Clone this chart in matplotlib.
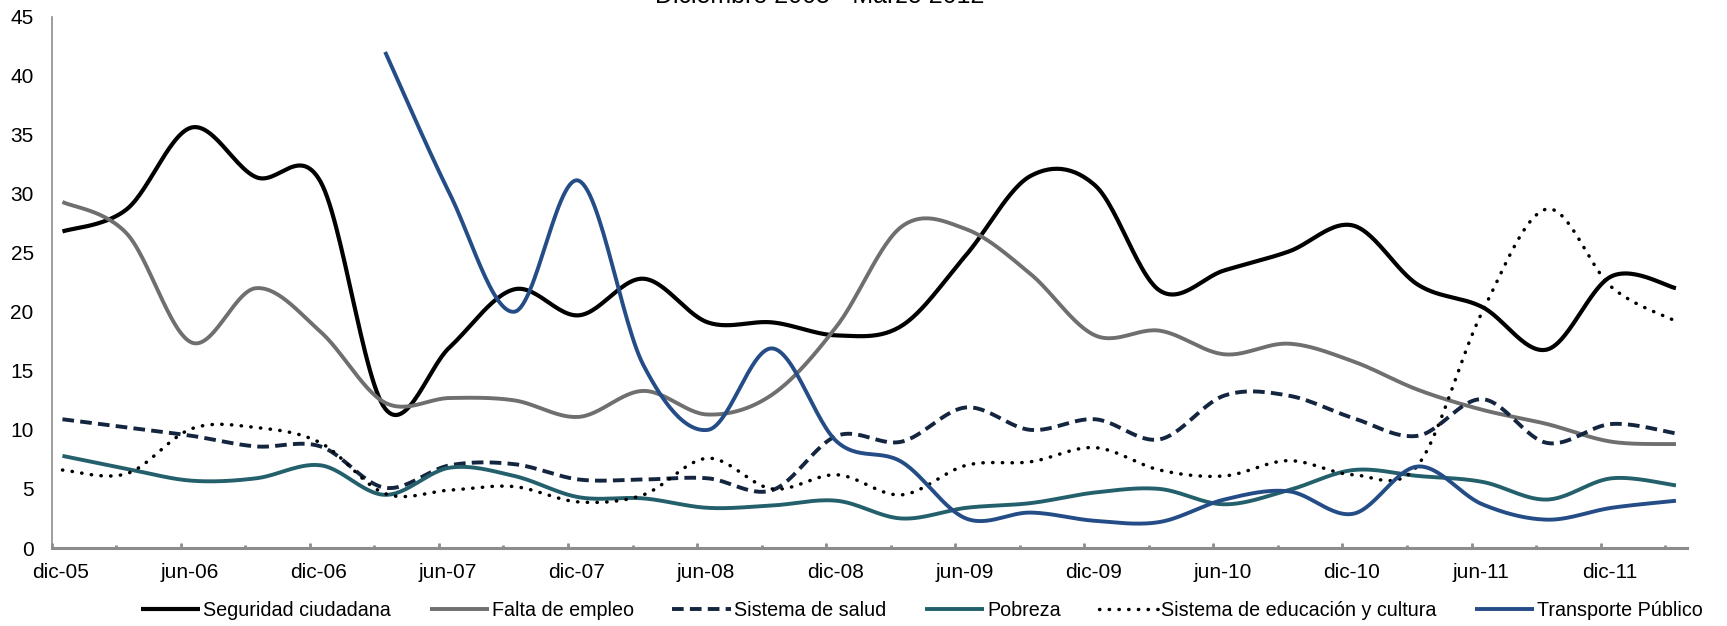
"""Problemas principales del país, dic-05 a mar-12 (curvas suavizadas tipo Excel)."""

import numpy as np
import matplotlib
matplotlib.use("Agg")
import matplotlib.pyplot as plt
from matplotlib.ticker import MultipleLocator
from matplotlib.transforms import ScaledTranslation

plt.rcParams['font.family'] = ['Liberation Sans', 'DejaVu Sans']

# ── datos (trimestrales) ──
periodos = ["dic-05", "mar-06", "jun-06", "sep-06", "dic-06", "mar-07", "jun-07",
            "sep-07", "dic-07", "mar-08", "jun-08", "sep-08", "dic-08", "mar-09",
            "jun-09", "sep-09", "dic-09", "mar-10", "jun-10", "sep-10", "dic-10",
            "mar-11", "jun-11", "sep-11", "dic-11", "mar-12"]

seguridad = [26.8, 28.7, 35.6, 31.4, 31.0, 11.8, 17.0, 21.9, 19.7, 22.8, 19.1, 19.1, 18.0,
             18.8, 24.8, 31.5, 30.7, 21.8, 23.5, 25.1, 27.3, 22.3, 20.4, 16.8, 23.0, 22.0]
empleo = [29.3, 26.6, 17.4, 22.0, 18.3, 12.3, 12.7, 12.5, 11.1, 13.3, 11.3, 13.0, 18.8,
          27.2, 27.0, 23.2, 18.0, 18.4, 16.4, 17.3, 15.8, 13.4, 11.7, 10.5, 9.0, 8.8]
salud = [10.9, 10.2, 9.5, 8.6, 8.6, 5.1, 7.0, 7.1, 5.8, 5.8, 5.9, 4.9, 9.5,
         9.0, 11.9, 10.0, 10.9, 9.2, 12.9, 12.9, 11.0, 9.5, 12.6, 8.9, 10.5, 9.7]
pobreza = [7.8, 6.7, 5.7, 5.9, 7.0, 4.5, 6.8, 6.1, 4.3, 4.2, 3.4, 3.6, 4.0,
           2.5, 3.4, 3.8, 4.7, 5.0, 3.7, 4.9, 6.6, 6.1, 5.6, 4.1, 5.9, 5.3]
educacion = [6.6, 6.3, 10.1, 10.2, 8.9, 4.6, 4.9, 5.2, 3.9, 4.5, 7.6, 5.0, 6.2,
             4.5, 7.0, 7.3, 8.5, 6.6, 6.1, 7.4, 6.2, 7.0, 20.0, 28.7, 22.1, 19.2]
transporte = [None, None, None, None, None, 42.0, 30.0, 20.0, 31.1, 15.5, 10.0, 16.9, 9.0,
              7.3, 2.5, 3.0, 2.3, 2.2, 4.1, 4.8, 2.9, 6.9, 3.7, 2.4, 3.4, 4.0]

titulo = "Diciembre 2005 - Marzo 2012"

# meses desde el 1 de dic-05; cada encuesta cae a mitad de mes
MES = {"ene": 1, "feb": 2, "mar": 3, "abr": 4, "may": 5, "jun": 6,
       "jul": 7, "ago": 8, "sep": 9, "oct": 10, "nov": 11, "dic": 12}


def a_meses(p):
    m, a = p.split("-")
    return (2000 + int(a)) * 12 + MES[m] - (2005 * 12 + 12)


x = np.array([a_meses(p) + 0.5 for p in periodos])


def suavizar(xs, ys, pasos=30):
    """Bezier tipo Excel (Catmull-Rom) por los puntos válidos."""
    ys = np.array([np.nan if v is None else v for v in ys], float)
    ok = np.isfinite(ys)
    P = np.column_stack([xs[ok], ys[ok]])
    n = len(P)
    t = np.linspace(0, 1, pasos)[:, None]
    out = []
    for i in range(n - 1):
        p0 = P[max(i - 1, 0)]; p1 = P[i]; p2 = P[i + 1]; p3 = P[min(i + 2, n - 1)]
        c1 = p1 + (p2 - p0) / 6; c2 = p2 - (p3 - p1) / 6
        B = ((1 - t) ** 3) * p1 + 3 * ((1 - t) ** 2) * t * c1 + 3 * (1 - t) * t ** 2 * c2 + t ** 3 * p2
        out.append(B if i == 0 else B[1:])
    B = np.vstack(out)
    return B[:, 0], B[:, 1]


fig = plt.figure(figsize=(17.27, 6.26), dpi=100)
ax = fig.add_axes([51.7 / 1727, 1 - 548 / 626, (1686.7 - 51.7) / 1727, (548 - 16.5) / 626])

series = [
    ("Seguridad ciudadana", seguridad, dict(color="#000000", lw=3.0, ls="-")),
    ("Falta de empleo", empleo, dict(color="#6f6f6f", lw=2.8, ls="-")),
    ("Sistema de salud", salud, dict(color="#13253f", lw=2.8, ls=(0, (3.0, 1.6)))),
    ("Pobreza", pobreza, dict(color="#23606b", lw=2.8, ls="-")),
    ("Sistema de educación y cultura", educacion,
     dict(color="#000000", lw=2.5, ls=(0, (0.1, 2.7)), dash_capstyle="round")),
    ("Transporte Público", transporte, dict(color="#244c86", lw=2.8, ls="-")),
]
for nombre, vals, st in series:
    xs, ys = suavizar(x, vals)
    ax.plot(xs, ys, label=nombre, solid_capstyle="butt", **st)

ax.set_xlim(0, 76)
ax.set_ylim(0, 45)
ax.yaxis.set_major_locator(MultipleLocator(5))

ax.set_xticks([a_meses(p) for p in periodos if p[:3] in ("dic", "jun")],
              [p for p in periodos if p[:3] in ("dic", "jun")])
ax.set_xticks([a_meses(p) for p in periodos if p[:3] in ("mar", "sep")], minor=True)

for s in ("top", "right"):
    ax.spines[s].set_visible(False)
ax.spines["left"].set_color("#8c8c8c"); ax.spines["left"].set_linewidth(1.2)
ax.spines["bottom"].set_color("#8c8c8c"); ax.spines["bottom"].set_linewidth(2.2)
ax.tick_params(axis="x", which="major", direction="in", length=3.6, width=2,
               color="#8c8c8c", pad=11, labelsize=15)
ax.tick_params(axis="x", which="minor", direction="in", length=2.5, width=2, color="#8c8c8c")
ax.tick_params(axis="y", length=0, pad=13, labelsize=15)

# Excel centra las etiquetas a mitad del mes
for lab in ax.get_xticklabels():
    lab.set_transform(lab.get_transform() + ScaledTranslation(9 / 100, 0, fig.dpi_scale_trans))

fig.text(820 / 1727, 1 - 2.7 / 626, titulo, ha="center", va="baseline", fontsize=18)

ax.legend(loc="center", bbox_to_anchor=(0.534, 1 - 610 / 626), bbox_transform=fig.transFigure,
          ncol=6, frameon=False, fontsize=14.2, handlelength=3.0, handletextpad=0.15,
          columnspacing=1.95, borderaxespad=0)

plt.savefig("out.png", dpi=100)
plt.close()
